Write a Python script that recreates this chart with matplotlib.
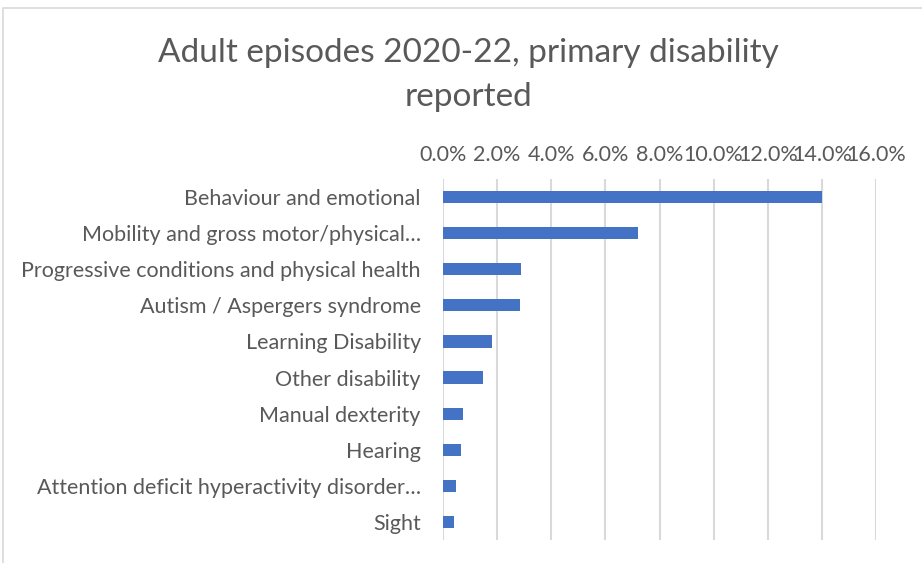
import matplotlib.pyplot as plt
from matplotlib.patches import Rectangle
from matplotlib.ticker import FuncFormatter, MultipleLocator

categories = [
    "Behaviour and emotional",
    "Mobility and gross motor/physical…",
    "Progressive conditions and physical health",
    "Autism / Aspergers syndrome",
    "Learning Disability",
    "Other disability",
    "Manual dexterity",
    "Hearing",
    "Attention deficit hyperactivity disorder…",
    "Sight",
]
shares = [14.0, 7.2, 2.9, 2.85, 1.8, 1.46, 0.74, 0.65, 0.47, 0.42]

text_color = "#595959"
bar_color = "#4472C4"
grid_color = "#d9d9d9"

plt.rcParams["font.family"] = ["Lato", "DejaVu Sans"]

fig = plt.figure(figsize=(9.22, 5.63), dpi=100)
fig.patches.append(Rectangle((3 / 922, -0.1), 1.2, (563 - 8) / 563 + 0.1,
                             transform=fig.transFigure, fill=False,
                             edgecolor="#d9d9d9", linewidth=1.2))

ax = fig.add_axes([443 / 922, (563 - 540) / 563, (876 - 443) / 922, (540 - 179) / 563])

y = list(range(len(categories)))
ax.barh(y, shares, height=0.34, color=bar_color, zorder=3)

ax.set_xlim(0, 16)
ax.set_ylim(len(categories) - 0.5, -0.5)
ax.xaxis.set_major_locator(MultipleLocator(2))
ax.xaxis.set_major_formatter(FuncFormatter(lambda v, p: f"{v:.1f}%"))
ax.xaxis.tick_top()
ax.grid(axis="x", color=grid_color, linewidth=1.5, zorder=0)

ax.set_yticks(y)
ax.set_yticklabels(categories)
ax.tick_params(axis="both", length=0, colors=text_color, labelsize=15.5)
ax.tick_params(axis="y", pad=16)
ax.tick_params(axis="x", pad=10)
for s in ax.spines.values():
    s.set_visible(False)

fig.text(468 / 922, 1 - 75 / 563, "Adult episodes 2020-22, primary disability\nreported",
         ha="center", va="center", fontsize=24, color=text_color, linespacing=1.58)

fig.savefig("out.png", dpi=100)
